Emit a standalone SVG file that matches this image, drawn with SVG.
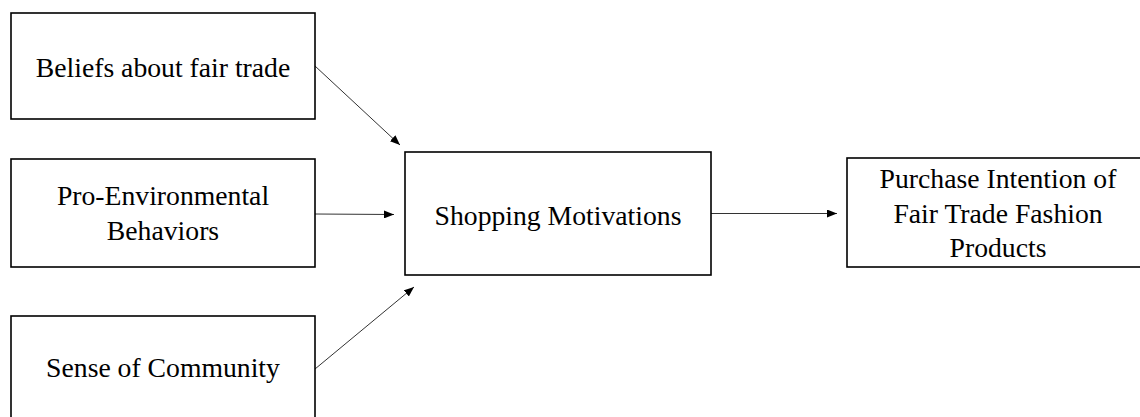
<svg xmlns="http://www.w3.org/2000/svg" width="1140" height="417" viewBox="0 0 1140 417">
<style>
.box{fill:#fff;stroke:#000;stroke-width:1.6}
.t{font-family:"Liberation Serif","Times New Roman",serif;font-size:27.7px;fill:#000;text-anchor:middle}
.c{stroke:#333;stroke-width:1;fill:none;marker-end:url(#ah)}
</style>
<defs>
<marker id="ah" markerWidth="10" markerHeight="8" refX="10" refY="4" orient="auto" markerUnits="userSpaceOnUse">
<path d="M0,0 L10,4 L0,8 Z" fill="#000"/>
</marker>
</defs>
<rect width="1140" height="417" fill="#fff"/>
<g id="connectors">
<line class="c" x1="315" y1="66" x2="400" y2="145"/>
<line class="c" x1="315" y1="214" x2="394" y2="214.5"/>
<line class="c" x1="315" y1="369" x2="414" y2="287"/>
<line class="c" x1="711" y1="213.5" x2="837" y2="213.5"/>
</g>
<g id="beliefs">
<rect class="box" x="11" y="13" width="304" height="106"/>
<text class="t" x="163" y="77">Beliefs about fair trade</text>
</g>
<g id="proenv">
<rect class="box" x="11" y="159" width="304" height="108"/>
<text class="t" x="163" y="205">Pro-Environmental</text>
<text class="t" x="163" y="240">Behaviors</text>
</g>
<g id="community">
<rect class="box" x="11" y="316" width="304" height="110"/>
<text class="t" x="163" y="377">Sense of Community</text>
</g>
<g id="shopping">
<rect class="box" x="405" y="152" width="306" height="123"/>
<text class="t" x="558" y="225">Shopping Motivations</text>
</g>
<g id="purchase">
<rect class="box" x="847" y="158" width="302" height="109"/>
<text class="t" x="998" y="188">Purchase Intention of</text>
<text class="t" x="998" y="223">Fair Trade Fashion</text>
<text class="t" x="998" y="257">Products</text>
</g>
</svg>
